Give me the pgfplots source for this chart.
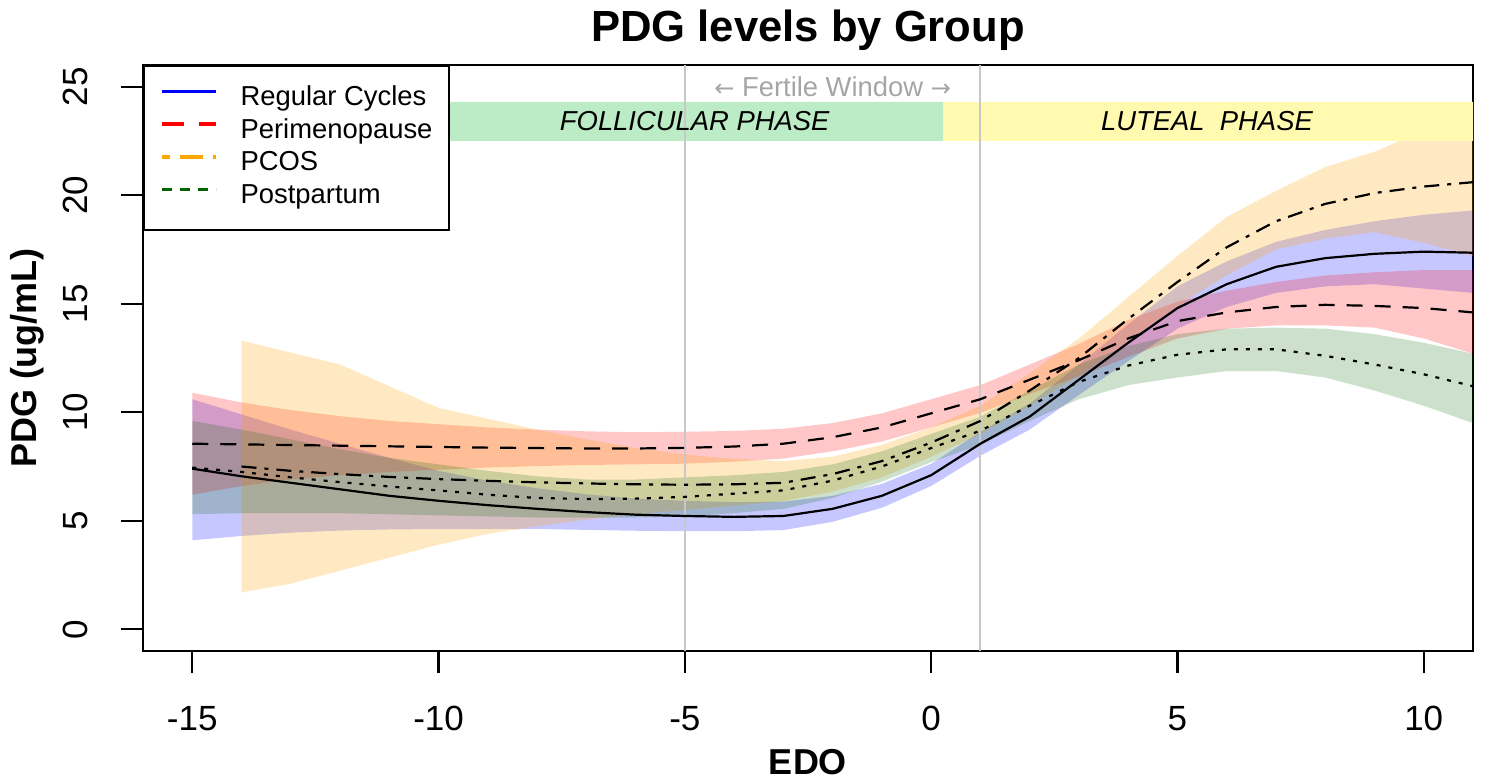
\documentclass[border=0pt]{standalone}
\usepackage{fontspec}
\setmainfont{Liberation Sans}
\newfontfamily\arrowfont{DejaVu Sans}
\usepackage{pgfplots}
\usepackage{pgfplotstable}
\pgfplotsset{compat=1.18}
\usepgfplotslibrary{fillbetween}

\definecolor{regblue}{RGB}{0,0,255}
\definecolor{perired}{RGB}{255,0,0}
\definecolor{pcosor}{RGB}{255,165,0}
\definecolor{ppgreen}{RGB}{0,100,0}
\definecolor{folgreen}{RGB}{187,236,197}
\definecolor{lutyellow}{RGB}{255,250,175}
\definecolor{vgray}{RGB}{200,200,200}
\definecolor{fwgray}{RGB}{165,165,165}

\pgfplotstableread{
x m lo hi
-15 7.40 4.10 10.60
-14 7.05 4.30 9.90
-13 6.75 4.45 9.20
-12 6.45 4.55 8.55
-11 6.15 4.60 7.90
-10 5.92 4.62 7.30
-9 5.72 4.62 6.85
-8 5.55 4.62 6.50
-7 5.40 4.58 6.22
-6 5.28 4.54 6.02
-5 5.22 4.52 5.92
-4 5.18 4.52 5.86
-3 5.22 4.57 5.88
-2 5.55 4.95 6.15
-1 6.15 5.60 6.70
0 7.10 6.60 7.62
1 8.55 8.00 9.10
2 9.80 9.20 10.40
3 11.50 10.80 12.20
4 13.20 12.35 14.05
5 14.80 13.85 15.80
6 15.90 14.85 16.95
7 16.70 15.50 17.85
8 17.10 15.80 18.40
9 17.30 15.90 18.80
10 17.40 15.70 19.10
11 17.35 15.50 19.30
}\regular

\pgfplotstableread{
x m lo hi
-15 8.55 6.20 10.90
-14 8.52 6.60 10.45
-13 8.49 6.90 10.10
-12 8.46 7.10 9.82
-11 8.43 7.25 9.60
-10 8.40 7.35 9.45
-9 8.37 7.45 9.30
-8 8.35 7.52 9.20
-7 8.33 7.57 9.12
-6 8.33 7.60 9.08
-5 8.36 7.63 9.10
-4 8.42 7.72 9.14
-3 8.55 7.87 9.24
-2 8.85 8.20 9.50
-1 9.30 8.65 9.95
0 9.95 9.30 10.60
1 10.60 9.97 11.25
2 11.50 10.85 12.20
3 12.40 11.65 13.15
4 13.40 12.55 14.25
5 14.20 13.40 15.10
6 14.60 13.85 15.60
7 14.85 14.00 16.00
8 14.95 14.00 16.30
9 14.90 13.90 16.45
10 14.80 13.40 16.55
11 14.60 12.70 16.55
}\peri

\pgfplotstableread{
x m lo hi
-14 7.50 1.70 13.30
-13 7.30 2.10 12.75
-12 7.15 2.70 12.20
-11 7.02 3.30 11.20
-10 6.92 3.90 10.20
-9 6.84 4.40 9.70
-8 6.77 4.75 9.20
-7 6.72 5.05 8.75
-6 6.68 5.30 8.35
-5 6.66 5.50 8.05
-4 6.68 5.70 7.85
-3 6.75 5.90 7.75
-2 7.15 6.35 7.95
-1 7.75 7.00 8.50
0 8.60 7.95 9.30
1 9.60 9.00 10.30
2 11.00 10.30 11.80
3 12.50 11.70 13.40
4 14.30 13.30 15.30
5 16.00 14.90 17.20
6 17.60 16.30 19.00
7 18.80 17.50 20.20
8 19.60 18.00 21.30
9 20.10 18.30 22.00
10 20.40 17.80 23.00
11 20.60 17.20 24.00
}\pcos

\pgfplotstableread{
x m lo hi
-15 7.45 5.30 9.60
-14 7.25 5.35 9.20
-13 7.00 5.35 8.75
-12 6.78 5.35 8.30
-11 6.58 5.30 7.90
-10 6.40 5.25 7.60
-9 6.20 5.20 7.30
-8 6.05 5.15 7.05
-7 6.00 5.15 6.90
-6 6.02 5.15 6.90
-5 6.10 5.20 7.00
-4 6.25 5.35 7.10
-3 6.40 5.55 7.25
-2 6.85 6.05 7.60
-1 7.50 6.80 8.20
0 8.35 7.70 9.00
1 9.15 8.50 9.80
2 10.30 9.60 11.00
3 11.40 10.60 12.20
4 12.15 11.25 13.05
5 12.65 11.60 13.60
6 12.90 11.90 13.85
7 12.90 11.90 13.90
8 12.60 11.60 13.85
9 12.20 11.00 13.60
10 11.75 10.30 13.20
11 11.20 9.50 12.70
}\postp

\begin{document}
\begin{tikzpicture}
\begin{axis}[
  at={(0,0)}, anchor=south west,
  scale only axis, width=665pt, height=293pt,
  xmin=-16, xmax=11, ymin=-1, ymax=26,
  xtick={-15,-10,-5,0,5,10}, ytick={0,5,10,15,20,25},
  xtick pos=bottom, ytick pos=left,
  tick align=outside, major tick length=11pt,
  every tick/.style={black, line width=1.1pt},
  axis line style={line width=1.1pt},
  /pgf/number format/assume math mode=true,
  ticklabel style={font=\fontsize{17.5}{20}\selectfont},
  xticklabel style={anchor=north, inner sep=0pt},
  yticklabel style={rotate=90, anchor=south, inner sep=0pt},
  xticklabel shift=16.5pt, yticklabel shift=16.5pt,
  title={PDG levels by Group},
  title style={at={(axis description cs:0.5,1.0392)}, anchor=center, inner sep=0pt, font=\bfseries\fontsize{21.8}{24}\selectfont},
  xlabel={EDO},
  xlabel style={at={(axis description cs:0.5,-0.1903)}, anchor=center, inner sep=0pt, font=\bfseries\fontsize{18}{20}\selectfont},
  ylabel={PDG (ug/mL)},
  ylabel style={at={(axis description cs:-0.0872,0.5)}, anchor=center, inner sep=0pt, font=\bfseries\fontsize{18}{20}\selectfont},
  legend style={at={(0,1)}, anchor=north west, draw=black, line width=1pt, fill=white,
    font=\fontsize{13.7}{16}\selectfont, inner xsep=8pt, inner ysep=9.8pt, row sep=2.95pt,
    nodes={inner sep=0pt, text height=10pt, text depth=3.4pt},
    /tikz/every odd column/.append style={column sep=11.5pt}},
  legend cell align=left,
  legend image code/.code={\draw[#1, line width=1.8pt] (3pt,3.8pt) -- (30pt,3.8pt);},
]
% legend entries
\addlegendimage{regblue, solid}
\addlegendentry{Regular Cycles}
\addlegendimage{perired, dash pattern=on 11pt off 7.5pt}
\addlegendentry{Perimenopause}
\addlegendimage{pcosor, dash pattern=on 4pt off 5pt on 11.5pt off 5pt}
\addlegendentry{PCOS}
\addlegendimage{ppgreen, dash pattern=on 5pt off 4pt}
\addlegendentry{Postpartum}

% phase rectangles
\addplot[draw=none, fill=folgreen, forget plot] coordinates {(-10,22.5) (0.25,22.5) (0.25,24.3) (-10,24.3) (-10,22.5)};
\addplot[draw=none, fill=lutyellow, forget plot] coordinates {(0.25,22.5) (11,22.5) (11,24.3) (0.25,24.3) (0.25,22.5)};

% bands
\addplot[draw=none, name path=rlo, forget plot] table[x=x,y=lo]{\regular};
\addplot[draw=none, name path=rhi, forget plot] table[x=x,y=hi]{\regular};
\addplot[fill=regblue, fill opacity=0.22, draw=none, forget plot] fill between[of=rhi and rlo];

\addplot[draw=none, name path=plo, forget plot] table[x=x,y=lo]{\peri};
\addplot[draw=none, name path=phi, forget plot] table[x=x,y=hi]{\peri};
\addplot[fill=perired, fill opacity=0.22, draw=none, forget plot] fill between[of=phi and plo];

\addplot[draw=none, name path=clo, forget plot] table[x=x,y=lo]{\pcos};
\addplot[draw=none, name path=chi, forget plot] table[x=x,y=hi]{\pcos};
\addplot[fill=pcosor, fill opacity=0.24, draw=none, forget plot] fill between[of=chi and clo];

\addplot[draw=none, name path=glo, forget plot] table[x=x,y=lo]{\postp};
\addplot[draw=none, name path=ghi, forget plot] table[x=x,y=hi]{\postp};
\addplot[fill=ppgreen, fill opacity=0.2, draw=none, forget plot] fill between[of=ghi and glo];

% fertile window lines
\addplot[vgray, line width=1pt, forget plot] coordinates {(-5,-1) (-5,26)};
\addplot[vgray, line width=1pt, forget plot] coordinates {(1,-1) (1,26)};

% mean curves
\addplot[black, line width=1.1pt, solid, forget plot] table[x=x,y=m]{\regular};
\addplot[black, line width=1.1pt, dash pattern=on 8pt off 6pt, forget plot] table[x=x,y=m]{\peri};
\addplot[black, line width=1.1pt, dash pattern=on 7.5pt off 4pt on 2pt off 4pt, forget plot] table[x=x,y=m]{\pcos};
\addplot[black, line width=1.1pt, dash pattern=on 2pt off 4pt, forget plot] table[x=x,y=m]{\postp};

% annotations
\node[font=\itshape\fontsize{13.7}{16}\selectfont] at (axis cs:-4.8,23.4) {FOLLICULAR PHASE};
\node[font=\itshape\fontsize{13.7}{16}\selectfont] at (axis cs:5.6,23.4) {LUTEAL\ \ PHASE};
\node[font=\fontsize{13.7}{16}\selectfont, text=fwgray] at (axis cs:-2,25.0) {{\arrowfont\fontsize{12}{14}\selectfont ←} Fertile Window {\arrowfont\fontsize{12}{14}\selectfont →}};
\end{axis}
\path (-71.5pt,-64.5pt) rectangle (671pt,325.5pt);
\end{tikzpicture}
\end{document}
